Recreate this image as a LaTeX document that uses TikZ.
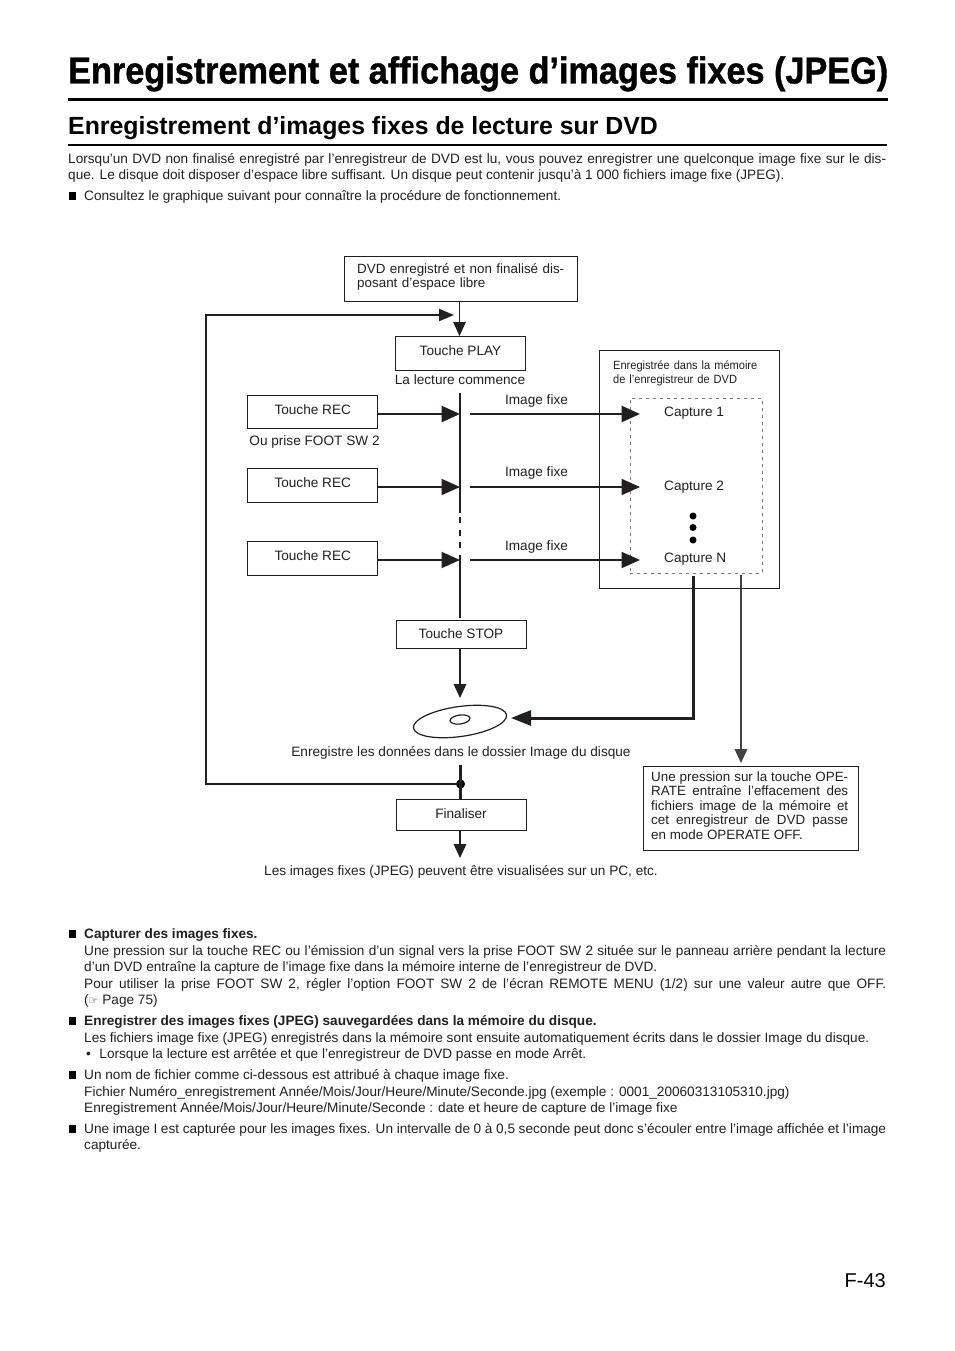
\documentclass[tikz,border=0pt]{standalone}
\usepackage{fontspec}
\setmainfont{Liberation Sans}
\newfontfamily\titlefont[FakeBold=1,FakeStretch=0.913]{Liberation Sans Bold}
\newfontfamily\capfont[FakeStretch=0.93]{Liberation Sans}
\newfontfamily\symbfont{DejaVu Sans}
\usetikzlibrary{arrows.meta,shapes.geometric}
\definecolor{ink}{HTML}{231F20}
\tolerance=9999
\emergencystretch=20pt
\hbadness=10000
\hfuzz=20pt
\tikzset{
    keybox/.style={draw=ink, line width=0.9pt, inner sep=0pt, minimum width=130pt, anchor=base, align=center, font=\fontsize{13.62}{15}\selectfont, text=ink},
    notebox/.style={draw=ink, line width=0.9pt, inner sep=0pt, anchor=north west},
    lbl/.style={inner sep=0pt, anchor=base, font=\fontsize{13.62}{15}\selectfont, text=ink},
    lblw/.style={lbl, anchor=base west},
    para/.style={inner sep=0pt, anchor=base west, text width=802pt, align=justify, font=\fontsize{13.62}{16.5}\selectfont, text=ink},
    sq/.style={fill=black, inner sep=0pt, minimum size=7.5pt},
    dotnode/.style={circle, fill=black, inner sep=0pt, minimum size=7pt},
    bigarrow/.style={-{Triangle[length=18.5pt,width=16pt]}, ink, line width=2pt},
    downarrow/.style={-{Triangle[length=14pt,width=12.5pt]}, ink, line width=2pt},
    thickarrow/.style={bigarrow, line width=2.8pt},
    railline/.style={ink, line width=2.4pt}
}
\begin{document}
\begin{tikzpicture}[x=1pt, y=-1pt]
    \useasboundingbox (0,0) rectangle (954,1351);

    \node[inner sep=0pt, anchor=base west, font=\fontsize{37.5}{40}\selectfont\titlefont] (title) at (68,83.5) {Enregistrement et affichage d’images fixes (JPEG)};
    \coordinate (titleL) at (67.5,100);
    \coordinate (titleR) at (887.5,100);
    \draw[line width=3pt] (titleL) -- (titleR);
    \node[inner sep=0pt, anchor=base west, font=\fontsize{24.85}{28}\selectfont\bfseries] (subtitle) at (68,134.5) {Enregistrement d’images fixes de lecture sur DVD};
    \coordinate (subL) at (67.5,145);
    \coordinate (subR) at (886.5,145);
    \draw[line width=1.5pt] (subL) -- (subR);

    \node[para, text width=818pt] (intro) at (68,163.5) {Lorsqu’un DVD non finalisé enregistré par l’enregistreur de DVD est lu, vous pouvez enregistrer une quelconque image fixe sur le dis-\linebreak que. Le disque doit disposer d’espace libre suffisant. Un disque peut contenir jusqu’à 1 000 fichiers image fixe (JPEG).};
    \node[sq] (b0) at (72.5,196) {};
    \node[para] (consult) at (84,200.5) {Consultez le graphique suivant pour connaître la procédure de fonctionnement.};

    \node[notebox, minimum width=232.5pt, minimum height=44.5pt] (dvd) at (344,256) {};
    \node[lblw, text width=215pt, font=\fontsize{13.4}{14.3}\selectfont] (dvdtext) at (357,273) {DVD enregistré et non finalisé dis-\\posant d’espace libre};
    \node[keybox, minimum width=130.5pt, text height=19pt, text depth=15pt] (play) at (460.5,355) {Touche PLAY};
    \node[lbl] (starts) at (460,384) {La lecture commence};

    \node[keybox, text height=19pt, text depth=14pt] (rec1) at (312,414) {\hspace{1.5pt}Touche REC};
    \node[lbl] (foot) at (314.5,445) {Ou prise FOOT SW 2};
    \node[keybox, text height=19pt, text depth=15pt] (rec2) at (312,487) {\hspace{1.5pt}Touche REC};
    \node[keybox, text height=19pt, text depth=15pt] (rec3) at (312,560) {\hspace{1.5pt}Touche REC};

    \node[lbl] (img1) at (536.5,404) {Image fixe};
    \node[lbl] (img2) at (536.5,476) {Image fixe};
    \node[lbl] (img3) at (536.5,550) {Image fixe};

    \node[notebox, minimum width=179.5pt, minimum height=238pt] (mem) at (599,350) {};
    \node[lblw, text width=160pt, font=\fontsize{11.9}{14.3}\selectfont\capfont] (memtext) at (613,369.5) {Enregistrée dans la mémoire\\de l’enregistreur de DVD};
    \node[draw=ink!60, line width=0.6pt, dash pattern=on 3pt off 4pt, inner sep=0pt, anchor=north west, minimum width=132pt, minimum height=175pt] (cap) at (630,398) {};
    \node[lblw] (cap1) at (664,416) {Capture 1};
    \node[lblw] (cap2) at (664,490) {Capture 2};
    \node[lblw] (capn) at (664,562) {Capture N};
    \node[dotnode] (d1) at (693,516) {};
    \node[dotnode] (d2) at (693,527.5) {};
    \node[dotnode] (d3) at (693,540) {};

    \coordinate (railA) at (460,393);
    \coordinate (railB) at (460,513);
    \coordinate (railC) at (460,517);
    \coordinate (railD) at (460,550);
    \coordinate (railE) at (460,555);
    \coordinate (railF) at (460,618);
    \draw[railline] (railA) -- (railB);
    \draw[railline, dash pattern=on 6pt off 6.5pt] (railC) -- (railD);
    \draw[railline] (railE) -- (railF);

    \coordinate (tip1) at (460,414);
    \coordinate (tip2) at (460,487);
    \coordinate (tip3) at (460,560);
    \coordinate (out1) at (470,414);
    \coordinate (out2) at (470,487);
    \coordinate (out3) at (470,560);
    \coordinate (in1) at (640,414);
    \coordinate (in2) at (640,487);
    \coordinate (in3) at (640,560);
    \draw[thickarrow] (rec1.base east) -- (tip1);
    \draw[bigarrow] (rec2.base east) -- (tip2);
    \draw[bigarrow] (rec3.base east) -- (tip3);
    \draw[thickarrow] (out1) -- (in1);
    \draw[bigarrow] (out2) -- (in2);
    \draw[bigarrow] (out3) -- (in3);

    \node[keybox, text height=18pt, text depth=10pt] (stop) at (461,638) {Touche STOP};
    \node[ellipse, draw=ink, line width=1.2pt, inner sep=0pt, minimum width=94pt, minimum height=30pt, rotate=8] (disc) at (460,721.5) {};
    \node[ellipse, draw=ink, line width=1.2pt, inner sep=0pt, minimum width=20pt, minimum height=9pt, rotate=8] (hole) at (460,719.5) {};
    \node[lbl] (saved) at (461,756) {Enregistre les données dans le dossier Image du disque};
    \node[dotnode, minimum size=9pt] (junction) at (460.5,784) {};
    \node[keybox, text height=19pt, text depth=12pt] (final) at (461,818) {Finaliser};
    \node[lbl] (pc) at (461,875) {Les images fixes (JPEG) peuvent être visualisées sur un PC, etc.};

    \coordinate (discin) at (460,698);
    \coordinate (stopout) at (460,648);
    \coordinate (savedout) at (460.5,765);
    \coordinate (finalup) at (460.5,799);
    \coordinate (finalout) at (460,830);
    \coordinate (pctip) at (460,858);
    \draw[downarrow] (stopout) -- (discin);
    \draw[railline] (savedout) -- (finalup);
    \draw[downarrow] (finalout) -- (pctip);

    \coordinate (loopturn) at (206,315);
    \coordinate (loopend) at (454,315);
    \coordinate (dvdout) at (459.5,301);
    \coordinate (playin) at (459.5,336);
    \draw[ink, line width=2pt, -{Triangle[length=15pt,width=12pt]}] (junction) -| (loopturn) -- (loopend);
    \draw[downarrow, line width=1pt] (dvdout) -- (playin);

    \coordinate (memout) at (693.5,576);
    \coordinate (memturn) at (693.5,718);
    \coordinate (discright) at (511,718);
    \draw[ink, line width=3pt, -{Triangle[length=20pt,width=15pt]}] (memout) -- (memturn) -- (discright);

    \node[notebox, minimum width=214.5pt, minimum height=83.5pt] (oper) at (643,766) {};
    \node[lblw, text width=197pt, align=justify, font=\fontsize{13.4}{14.5}\selectfont] (opertext) at (651,781) {Une pression sur la touche OPE-\linebreak RATE entraîne l’effacement des\linebreak fichiers image de la mémoire et\linebreak cet enregistreur de DVD passe\linebreak en mode OPERATE OFF.};
    \coordinate (eraseout) at (741,575);
    \coordinate (erasein) at (741,763);
    \draw[downarrow, ink!85, line width=2pt] (eraseout) -- (erasein);

    \node[sq] (b1) at (72.5,934) {};
    \node[para] (p1) at (84,938.5) {\textbf{Capturer des images fixes.}\hfill\null\linebreak Une pression sur la touche REC ou l’émission d’un signal vers la prise FOOT SW 2 située sur le panneau arrière pendant la lecture\linebreak d’un DVD entraîne la capture de l’image fixe dans la mémoire interne de l’enregistreur de DVD.\hfill\null\linebreak Pour utiliser la prise FOOT SW 2, régler l’option FOOT SW 2 de l’écran REMOTE MENU (1/2) sur une valeur autre que OFF.\linebreak ({\symbfont\fontsize{11}{11}\selectfont ☞} Page 75)};
    \node[sq] (b2) at (72.5,1021) {};
    \node[para] (p2) at (84,1025.5) {\textbf{Enregistrer des images fixes (JPEG) sauvegardées dans la mémoire du disque.}\hfill\null\linebreak Les fichiers image fixe (JPEG) enregistrés dans la mémoire sont ensuite automatiquement écrits dans le dossier Image du disque.\hfill\null\linebreak \null\hspace{2pt}•\hspace{8.5pt}Lorsque la lecture est arrêtée et que l’enregistreur de DVD passe en mode Arrêt.};
    \node[sq] (b3) at (72.5,1075) {};
    \node[para] (p3) at (84,1079.5) {Un nom de fichier comme ci-dessous est attribué à chaque image fixe.\hfill\null\linebreak Fichier Numéro\_enregistrement Année/Mois/Jour/Heure/Minute/Seconde.jpg (exemple : 0001\_20060313105310.jpg)\hfill\null\linebreak Enregistrement Année/Mois/Jour/Heure/Minute/Seconde : date et heure de capture de l’image fixe};
    \node[sq] (b4) at (72.5,1129) {};
    \node[para] (p4) at (84,1133) {Une image I est capturée pour les images fixes. Un intervalle de 0 à 0,5 seconde peut donc s’écouler entre l’image affichée et l’image\linebreak capturée.};

    \node[inner sep=0pt, anchor=base east, font=\fontsize{20}{24}\selectfont] (folio) at (886,1287) {F-43};
\end{tikzpicture}
\end{document}
